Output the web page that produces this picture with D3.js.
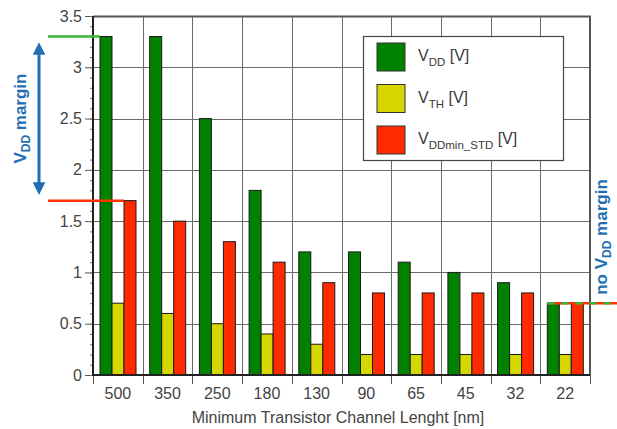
<!DOCTYPE html>
<html>
<head>
<meta charset="utf-8">
<script src="https://cdn.jsdelivr.net/npm/d3@7"></script>
<style>
  html, body { margin: 0; padding: 0; background: #fff; }
  svg { display: block; font-family: "Liberation Sans", Arial, sans-serif; }
</style>
</head>
<body>
<svg id="chart" width="617" height="429"></svg>
<script>
// ─── Data ────────────────────────────────────────────────────────────────────
const nodes = ['500', '350', '250', '180', '130', '90', '65', '45', '32', '22'];
const vdd    = [3.3, 3.3, 2.5, 1.8, 1.2, 1.2, 1.1, 1.0, 0.9, 0.7];
const vth    = [0.7, 0.6, 0.5, 0.4, 0.3, 0.2, 0.2, 0.2, 0.2, 0.2];
const vddMin = [1.7, 1.5, 1.3, 1.1, 0.9, 0.8, 0.8, 0.8, 0.8, 0.7];
const yTicks = [0, 0.5, 1, 1.5, 2, 2.5, 3, 3.5];

const series = [
  { key: 'vdd', values: vdd,    color: '#008200', label: ['V', 'DD', ' [V]'] },
  { key: 'vth', values: vth,    color: '#d6d600', label: ['V', 'TH', ' [V]'] },
  { key: 'min', values: vddMin, color: '#ff2a00', label: ['V', 'DDmin_STD', ' [V]'] },
];

// ─── Layout ──────────────────────────────────────────────────────────────────
const P = { left: 93, right: 590, top: 16, bottom: 375 };
const BLUE = '#1f6fb2';
const FS = 16;

const svg = d3.select('#chart');

const x = d3.scaleBand().domain(nodes).range([P.left, P.right]);
const xs = d3.scaleBand().domain(series.map(s => s.key)).range([7, 43]);
const y = d3.scaleLinear().domain([0, 3.5]).range([P.bottom, P.top]);

// ── Grid ────────────────────────────────────────────────────────────────────
const grid = svg.append('g').attr('stroke', '#6a6a6a').attr('stroke-width', 1);
grid.selectAll('line.h')
  .data(yTicks.slice(1, -1))
  .join('line')
  .attr('x1', P.left).attr('x2', P.right)
  .attr('y1', d => Math.round(y(d)) + 0.5).attr('y2', d => Math.round(y(d)) + 0.5);
grid.selectAll('line.v')
  .data(nodes.slice(1))
  .join('line')
  .attr('x1', d => Math.round(x(d)) + 0.5).attr('x2', d => Math.round(x(d)) + 0.5)
  .attr('y1', P.top).attr('y2', P.bottom);

// top / right frame
svg.append('path')
  .attr('d', `M${P.left},${P.top + 0.5}H${P.right}V${P.bottom}`)
  .attr('fill', 'none').attr('stroke', '#555').attr('stroke-width', 2);

// ── Legend ──────────────────────────────────────────────────────────────────
const lg = svg.append('g').attr('transform', 'translate(363,36)');
lg.append('rect').attr('x', 0.5).attr('y', 0.5).attr('width', 200).attr('height', 124)
  .attr('fill', '#fff').attr('stroke', '#444').attr('stroke-width', 1.2);
series.forEach((s, i) => {
  const gy = 7 + i * 41.5;
  lg.append('rect').attr('x', 14).attr('y', gy).attr('width', 28).attr('height', 28)
    .attr('fill', s.color).attr('stroke', '#333').attr('stroke-width', 1);
  const t = lg.append('text').attr('x', 55).attr('y', gy + 18)
    .attr('font-size', FS).attr('fill', '#3a3a3a');
  t.append('tspan').text(s.label[0]);
  t.append('tspan').attr('dy', 5).attr('font-size', 11.5).text(s.label[1]);
  t.append('tspan').attr('dy', -5).text(s.label[2]);
});

// ── Bars ────────────────────────────────────────────────────────────────────
series.forEach(s => {
  svg.append('g')
    .selectAll('rect')
    .data(s.values)
    .join('rect')
    .attr('x', (d, i) => x(nodes[i]) + xs(s.key))
    .attr('y', d => y(d))
    .attr('width', xs.bandwidth())
    .attr('height', d => y(0) - y(d))
    .attr('fill', s.color)
    .attr('stroke', '#1a1a1a')
    .attr('stroke-width', 1);
});

// ── Axes ────────────────────────────────────────────────────────────────────
const yAxis = svg.append('g').attr('transform', `translate(${P.left},0)`)
  .call(d3.axisLeft(y).tickValues(yTicks).tickSize(8).tickPadding(3).tickFormat(d3.format('')));
yAxis.select('.domain').remove();
yAxis.selectAll('.tick line').attr('stroke', '#555');
yAxis.selectAll('text').attr('font-size', FS).attr('fill', '#444').attr('font-family', null);

svg.append('g').attr('transform', `translate(${P.left},0)`)
  .call(d3.axisLeft(y).ticks(35).tickSize(3).tickFormat(''))
  .call(g => g.select('.domain').remove())
  .selectAll('.tick line').attr('stroke', '#777');

// bottom ticks at category boundaries
svg.append('g').selectAll('line')
  .data(nodes.concat(['end']))
  .join('line')
  .attr('x1', (d, i) => Math.round(P.left + i * x.bandwidth()) + 0.5)
  .attr('x2', (d, i) => Math.round(P.left + i * x.bandwidth()) + 0.5)
  .attr('y1', P.bottom).attr('y2', P.bottom + 9)
  .attr('stroke', '#555');

svg.append('g').selectAll('text')
  .data(nodes)
  .join('text')
  .attr('x', d => x(d) + x.bandwidth() / 2)
  .attr('y', P.bottom + 24)
  .attr('text-anchor', 'middle')
  .attr('font-size', FS).attr('fill', '#444')
  .text(d => d);

// axis lines
svg.append('line').attr('x1', P.left).attr('x2', P.left).attr('y1', P.top).attr('y2', P.bottom + 1)
  .attr('stroke', '#222').attr('stroke-width', 2);
svg.append('line').attr('x1', P.left).attr('x2', P.right).attr('y1', P.bottom).attr('y2', P.bottom)
  .attr('stroke', '#222').attr('stroke-width', 2);

svg.append('text')
  .attr('x', 338).attr('y', 423)
  .attr('text-anchor', 'middle').attr('font-size', FS).attr('fill', '#444')
  .text('Minimum Transistor Channel Lenght [nm]');

// ── Margin annotations ──────────────────────────────────────────────────────
const first = nodes[0];
svg.append('line')
  .attr('x1', 48).attr('x2', x(first) + xs('vdd'))
  .attr('y1', y(vdd[0])).attr('y2', y(vdd[0]))
  .attr('stroke', '#3cb33c').attr('stroke-width', 2.5);
svg.append('line')
  .attr('x1', 48).attr('x2', x(first) + xs('min'))
  .attr('y1', y(vddMin[0])).attr('y2', y(vddMin[0]))
  .attr('stroke', '#ff3300').attr('stroke-width', 2.5);

svg.append('defs').append('marker')
  .attr('id', 'ah').attr('viewBox', '0 0 10 10').attr('refX', 5).attr('refY', 5)
  .attr('markerWidth', 4.2).attr('markerHeight', 4.2).attr('orient', 'auto-start-reverse')
  .attr('markerUnits', 'strokeWidth')
  .append('path').attr('d', 'M0,0L10,5L0,10Z').attr('fill', BLUE);
svg.append('line')
  .attr('x1', 39).attr('x2', 39)
  .attr('y1', y(vdd[0]) + 12).attr('y2', y(vddMin[0]) - 12)
  .attr('stroke', BLUE).attr('stroke-width', 3)
  .attr('marker-start', 'url(#ah)').attr('marker-end', 'url(#ah)');

const lt = svg.append('text')
  .attr('transform', `translate(26,${(y(vdd[0]) + y(vddMin[0])) / 2}) rotate(-90)`)
  .attr('text-anchor', 'middle').attr('font-size', 17).attr('font-weight', 'bold').attr('fill', BLUE);
lt.append('tspan').text('V');
lt.append('tspan').attr('dy', 4).attr('font-size', 12).text('DD');
lt.append('tspan').attr('dy', -4).text(' margin');

// no-margin dashed line at the smallest node
const last = nodes[nodes.length - 1];
const yl = y(vdd[vdd.length - 1]);
svg.append('line')
  .attr('x1', x(last) + xs('vdd')).attr('x2', 617).attr('y1', yl).attr('y2', yl)
  .attr('stroke', '#ff3300').attr('stroke-width', 2.5);
svg.append('line')
  .attr('x1', x(last) + xs('vdd')).attr('x2', 617).attr('y1', yl).attr('y2', yl)
  .attr('stroke', '#3cb33c').attr('stroke-width', 2.5).attr('stroke-dasharray', '7,7');

const rt = svg.append('text')
  .attr('transform', `translate(607,237) rotate(-90)`)
  .attr('text-anchor', 'middle').attr('font-size', 17).attr('font-weight', 'bold').attr('fill', BLUE);
rt.append('tspan').text('no V');
rt.append('tspan').attr('dy', 3.5).attr('font-size', 12).text('DD');
rt.append('tspan').attr('dy', -3.5).text(' margin');
</script>
</body>
</html>
